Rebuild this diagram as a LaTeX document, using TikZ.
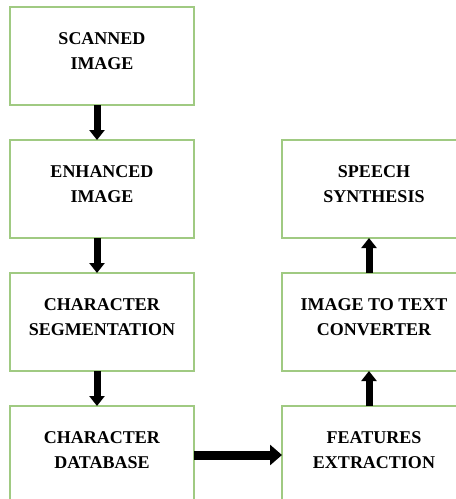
\documentclass[tikz,border=0pt]{standalone}
\usepackage{fontspec}
\setmainfont{Liberation Serif}
\usetikzlibrary{arrows.meta, positioning}
\definecolor{boxgreen}{RGB}{160,202,130}

\begin{document}
\begin{tikzpicture}[
  x=0.5pt, y=-0.5pt,
  node distance=17.5pt and 44pt,
  blockbox/.style={
    rectangle, draw=boxgreen, line width=0.75pt,
    minimum width=92pt, minimum height=49pt,
    align=center, inner sep=0pt, outer sep=0pt,
    text height=18.5pt, text depth=5pt,
    font=\fontsize{9}{12.5}\selectfont\bfseries
  },
  downarrow/.style={-{Triangle[width=7.5pt, length=5pt]}, line width=3.5pt, draw=black},
  sidearrow/.style={-{Triangle[width=10pt, length=6pt]}, line width=4.5pt, draw=black}
]
\useasboundingbox (0,0) rectangle (456,499);
\clip (0,0) rectangle (456,499);

\node[blockbox] (scan) at (102,56) {SCANNED\\IMAGE};
\node[blockbox, below=of scan] (enhance) {ENHANCED\\IMAGE};
\node[blockbox, below=of enhance] (segment) {CHARACTER\\SEGMENTATION};
\node[blockbox, below=of segment] (database) {CHARACTER\\DATABASE};
\node[blockbox, right=of database] (features) {FEATURES\\EXTRACTION};
\node[blockbox, above=of features] (converter) {IMAGE TO TEXT\\CONVERTER};
\node[blockbox, above=of converter] (speech) {SPEECH\\SYNTHESIS};

\draw[downarrow] ([xshift=-2.5pt]scan.south) -- ([xshift=-2.5pt]enhance.north);
\draw[downarrow] ([xshift=-2.5pt]enhance.south) -- ([xshift=-2.5pt]segment.north);
\draw[downarrow] ([xshift=-2.5pt]segment.south) -- ([xshift=-2.5pt]database.north);
\draw[sidearrow] (database.east) -- (features.west);
\draw[downarrow] ([xshift=-2.5pt]features.north) -- ([xshift=-2.5pt]converter.south);
\draw[downarrow] ([xshift=-2.5pt]converter.north) -- ([xshift=-2.5pt]speech.south);

\end{tikzpicture}
\end{document}
